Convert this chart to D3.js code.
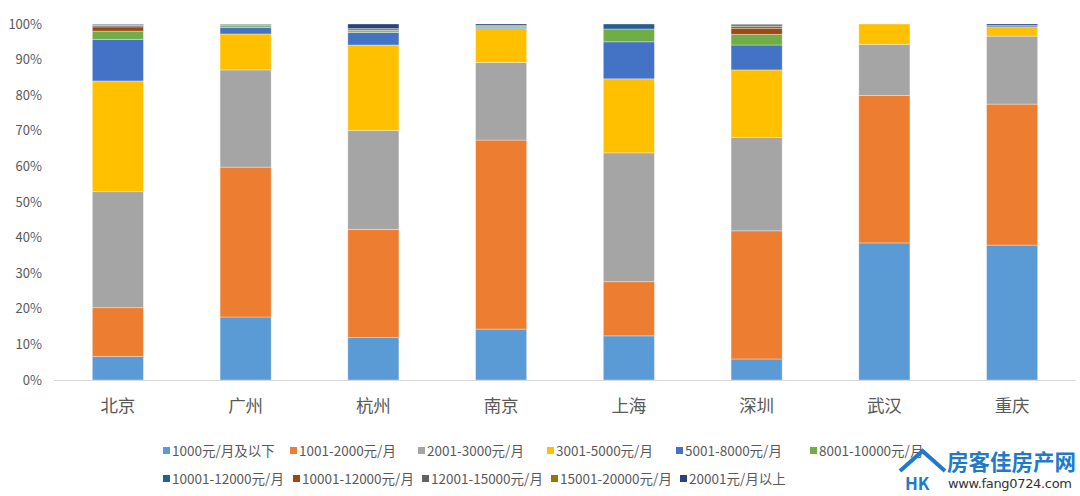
<!DOCTYPE html>
<html><head><meta charset="utf-8">
<script src="https://cdn.jsdelivr.net/npm/d3@7"></script>
<style>
html,body{margin:0;padding:0;background:#fff;}
svg{display:block;font-family:"Noto Sans CJK SC","Noto Sans",sans-serif;}
</style></head>
<body><svg id="chart" width="1080" height="496"></svg>
<script>
const categories = ['北京','广州','杭州','南京','上海','深圳','武汉','重庆'];
const seriesNames = ['1000元/月及以下','1001-2000元/月','2001-3000元/月','3001-5000元/月','5001-8000元/月','8001-10000元/月',
  '10001-12000元/月','10001-12000元/月','12001-15000元/月','15001-20000元/月','20001元/月以上'];
const seriesColors = ['#5B9BD5','#ED7D31','#A5A5A5','#FFC000','#4472C4','#70AD47','#255E91','#9E480E','#636363','#997300','#264478'];
// percent values per city, in series order
const v北京 = [6.6, 13.7, 32.6, 31.1, 11.7, 2.3, 0, 1.2, 0.4, 0.2, 0.2];
const v广州 = [17.7, 42.1, 27.3, 10.1, 1.8, 0.5, 0.2, 0, 0.2, 0, 0.1];
const v杭州 = [11.9, 30.4, 27.8, 24.0, 3.5, 0.2, 0, 0.3, 0.2, 0.4, 1.3];
const v南京 = [14.3, 53.1, 21.8, 9.5, 0.4, 0.3, 0.2, 0, 0, 0, 0.4];
const v上海 = [12.4, 15.2, 36.2, 20.8, 10.4, 3.6, 1.4, 0, 0, 0, 0];
const v深圳 = [5.9, 36.0, 26.2, 19.0, 7.0, 3.0, 0, 1.7, 0.5, 0.5, 0.2];
const v武汉 = [38.5, 41.4, 14.4, 5.7, 0, 0, 0, 0, 0, 0, 0];
const v重庆 = [37.9, 39.6, 19.1, 2.6, 0.4, 0, 0, 0, 0, 0, 0.4];
const yTicks = [0,0.1,0.2,0.3,0.4,0.5,0.6,0.7,0.8,0.9,1.0];

const cityValues = [v北京,v广州,v杭州,v南京,v上海,v深圳,v武汉,v重庆];
const rows = categories.map((c,i)=>{const o={city:c}; seriesNames.forEach((s,j)=>o['s'+j]=cityValues[i][j]/100); return o;});
const keys = seriesNames.map((s,j)=>'s'+j);

const svg = d3.select('#chart');
const x = d3.scaleBand().domain(categories).range([54,1076]).paddingInner(0.6).paddingOuter(0.3);
const y = d3.scaleLinear().domain([0,1]).range([380,24]);
const stack = d3.stack().keys(keys)(rows);

const g = svg.append('g');
g.selectAll('g.series').data(stack).join('g').attr('class','series')
  .attr('fill',(d,i)=>seriesColors[i])
  .selectAll('rect').data(d=>d).join('rect')
  .attr('x',d=>x(d.data.city)).attr('width',x.bandwidth())
  .attr('y',d=>y(d[1])).attr('height',d=>Math.max(0,y(d[0])-y(d[1])))
  .attr('stroke','#fff').attr('stroke-opacity',0.45).attr('stroke-width',0.75);

// x axis line
svg.append('line').attr('x1',54).attr('x2',1076).attr('y1',380.5).attr('y2',380.5).attr('stroke','#D9D9D9').attr('stroke-width',1);

// y axis labels
const ya = svg.append('g').attr('transform','translate(54,0)')
  .call(d3.axisLeft(y).tickValues(yTicks).tickFormat(d3.format('.0%')).tickSize(0).tickPadding(12));
ya.select('.domain').remove();
ya.selectAll('text').attr('fill','#595959').attr('font-size',13).style('font-family','"Noto Sans CJK SC",sans-serif');

// x labels
const xa = svg.append('g').attr('transform','translate(0,380)')
  .call(d3.axisBottom(x).tickSize(0).tickPadding(20));
xa.select('.domain').remove();
xa.selectAll('text').attr('fill','#595959').attr('font-size',17.5).style('font-family','"Noto Sans CJK SC",sans-serif');

// legend
const legendRows = [[0,1,2,3,4,5],[6,7,8,9,10]];
const legendCols = [[163,290,418,547,676,810],[163,293,422,551,680]];
const rowY = [451, 479];
legendRows.forEach((r,ri)=>{
  r.forEach((j,k)=>{
    const item = svg.append('g').attr('transform',`translate(${legendCols[ri][k]},${rowY[ri]})`);
    item.append('rect').attr('x',0).attr('y',-4).attr('width',7).attr('height',7).attr('fill',seriesColors[j]);
    item.append('text').attr('x',9).attr('y',0).attr('dy','0.35em')
      .attr('font-size',13.5).attr('fill','#595959').text(seriesNames[j]);
  });
});

// watermark
const wm = svg.append('g');
wm.append('path').attr('d','M900,471 L922.5,451 L945,471').attr('fill','none').attr('stroke','#1F7BC9').attr('stroke-width',4).attr('stroke-linejoin','miter');
wm.append('text').attr('x',905).attr('y',490).attr('font-size',17).attr('font-weight','bold').attr('fill','#1F7BC9').text('HK');
wm.append('text').attr('x',947).attr('y',470).attr('font-size',21.5).attr('font-weight','bold').attr('fill','#1F7BC9').text('房客佳房产网');
wm.append('text').attr('x',948).attr('y',488).attr('font-size',13).attr('fill','#333').style('font-family','"DejaVu Sans",sans-serif').attr('textLength',124).text('www.fang0724.com');
</script></body></html>
